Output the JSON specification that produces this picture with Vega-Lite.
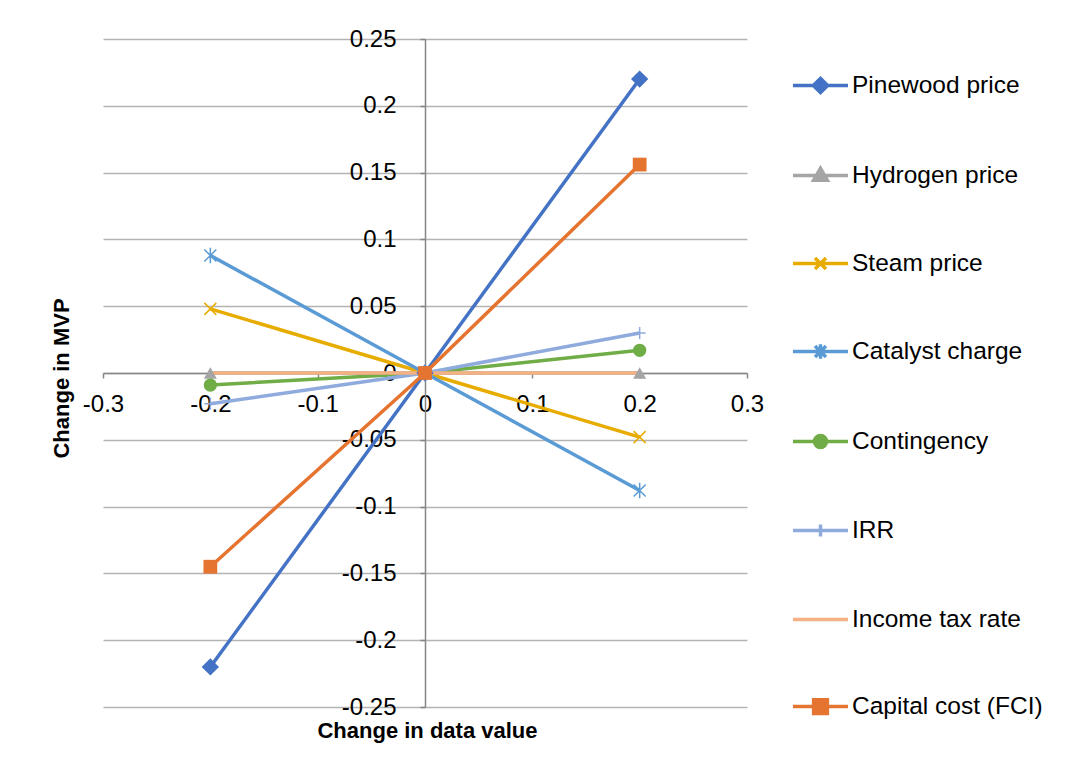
{
  "$schema": "https://vega.github.io/schema/vega-lite/v6.json",
  "autosize": {"type": "none"},
  "padding": {"left": 103, "top": 39, "right": 319, "bottom": 66},
  "width": 644,
  "height": 668,
  "background": "white",
  "config": {
    "view": {"stroke": null},
    "font": "Liberation Sans",
    "axis": {
      "labelFont": "Liberation Sans",
      "labelFontSize": 24,
      "labelColor": "#000000",
      "titleFont": "Liberation Sans",
      "titleFontSize": 22,
      "titleFontWeight": "bold",
      "titleColor": "#000000",
      "domainColor": "#868686",
      "domainWidth": 1.5,
      "tickColor": "#868686",
      "tickSize": 5,
      "tickWidth": 1.5,
      "gridColor": "#b3b3b3",
      "gridWidth": 1.3,
      "labelOverlap": false,
      "labelFlush": false,
      "labelBound": false
    }
  },
  "data": {
    "values": [
      {"series": "Pinewood price", "x": -0.2, "y": -0.22},
      {"series": "Pinewood price", "x": 0, "y": 0},
      {"series": "Pinewood price", "x": 0.2, "y": 0.22},
      {"series": "Hydrogen price", "x": -0.2, "y": 0},
      {"series": "Hydrogen price", "x": 0, "y": 0},
      {"series": "Hydrogen price", "x": 0.2, "y": 0},
      {"series": "Steam price", "x": -0.2, "y": 0.048},
      {"series": "Steam price", "x": 0, "y": 0},
      {"series": "Steam price", "x": 0.2, "y": -0.048},
      {"series": "Catalyst charge", "x": -0.2, "y": 0.088},
      {"series": "Catalyst charge", "x": 0, "y": 0},
      {"series": "Catalyst charge", "x": 0.2, "y": -0.088},
      {"series": "Contingency", "x": -0.2, "y": -0.009},
      {"series": "Contingency", "x": 0, "y": 0},
      {"series": "Contingency", "x": 0.2, "y": 0.017},
      {"series": "IRR", "x": -0.2, "y": -0.023},
      {"series": "IRR", "x": 0, "y": 0},
      {"series": "IRR", "x": 0.2, "y": 0.03},
      {"series": "Income tax rate", "x": -0.2, "y": 0},
      {"series": "Income tax rate", "x": 0, "y": 0},
      {"series": "Income tax rate", "x": 0.2, "y": 0},
      {"series": "Capital cost (FCI)", "x": -0.2, "y": -0.145},
      {"series": "Capital cost (FCI)", "x": 0, "y": 0},
      {"series": "Capital cost (FCI)", "x": 0.2, "y": 0.156}
    ]
  },
  "encoding": {
    "x": {
      "field": "x",
      "type": "quantitative",
      "scale": {"domain": [-0.3, 0.3], "nice": false, "zero": false},
      "axis": {
        "orient": "bottom",
        "offset": -334,
        "values": [-0.3, -0.2, -0.1, 0, 0.1, 0.2, 0.3],
        "labelExpr": "'' + datum.value",
        "grid": false,
        "labelPadding": 14,
        "title": "Change in data value",
        "titleX": 324,
        "titleY": 357,
        "titleAlign": "center",
        "titleBaseline": "middle",
        "titleAnchor": null
      }
    },
    "y": {
      "field": "y",
      "type": "quantitative",
      "scale": {"domain": [-0.25, 0.25], "nice": false, "zero": false},
      "axis": {
        "orient": "left",
        "offset": -322,
        "values": [-0.25, -0.2, -0.15, -0.1, -0.05, 0, 0.05, 0.1, 0.15, 0.2, 0.25],
        "labelExpr": "'' + datum.value",
        "grid": true,
        "labelPadding": 24,
        "labelBaseline": "middle",
        "title": "Change in MVP",
        "titleX": -364,
        "titleY": 339,
        "titleAngle": 270,
        "titleAlign": "center",
        "titleBaseline": "middle",
        "titleAnchor": null
      }
    }
  },
  "layer": [
    {
      "mark": {"type": "line", "strokeWidth": 3.5},
      "encoding": {
        "color": {
          "field": "series",
          "type": "nominal",
          "scale": {
            "domain": ["Pinewood price", "Hydrogen price", "Steam price", "Catalyst charge", "Contingency", "IRR", "Income tax rate", "Capital cost (FCI)"],
            "range": ["#4472C4", "#A5A5A5", "#E8AC00", "#5B9BD5", "#70AD47", "#8FAADC", "#F4B183", "#E57430"]
          },
          "legend": {
            "title": null,
            "orient": "none",
            "legendX": 688,
            "legendY": 17,
            "padding": 0,
            "offset": 0,
            "symbolSize": 3025,
            "symbolStrokeWidth": 3.5,
            "rowPadding": 46,
            "labelFont": "Liberation Sans",
            "labelFontSize": 24.5,
            "labelColor": "#000000",
            "labelOffset": 2,
            "labelLimit": 400,
            "encode": {
              "symbols": {
                "update": {
                  "shape": {"signal": "datum.value === 'Pinewood price' ? 'M-1,0H1M-0.26,0L0,-0.26L0.26,0L0,0.26Z' : datum.value === 'Hydrogen price' ? 'M-1,0H1M0,-0.26L0.25,0.17L-0.25,0.17Z' : datum.value === 'Steam price' ? 'M-1,0H1M-0.2,-0.2L0.2,0.2M-0.2,0.2L0.2,-0.2' : datum.value === 'Catalyst charge' ? 'M-1,0H1M-0.2,-0.2L0.2,0.2M-0.2,0.2L0.2,-0.2M0,-0.26V0.26' : datum.value === 'Contingency' ? 'M-1,0H1M-0.22,0A0.22,0.22,0,1,0,0.22,0A0.22,0.22,0,1,0,-0.22,0Z' : datum.value === 'IRR' ? 'M-1,0H1M0,-0.22V0.22' : datum.value === 'Capital cost (FCI)' ? 'M-1,0H1M-0.25,-0.25H0.25V0.25H-0.25Z' : 'M-1,0H1'"},
                  "fill": {"signal": "indexof(['Pinewood price','Hydrogen price','Contingency','Capital cost (FCI)'], datum.value) >= 0 ? scale('color', datum.value) : 'transparent'"},
                  "stroke": {"signal": "scale('color', datum.value)"},
                  "strokeWidth": {"value": 3.5},
                  "opacity": {"value": 1}
                }
              }
            }
          }
        }
      }
    },
    {
      "transform": [{"filter": {"field": "series", "equal": "Pinewood price"}}],
      "mark": {"type": "point", "shape": "diamond", "filled": true, "opacity": 1, "size": 300, "color": "#4472C4"}
    },
    {
      "transform": [{"filter": {"field": "series", "equal": "Hydrogen price"}}],
      "mark": {"type": "point", "shape": "triangle-up", "filled": true, "opacity": 1, "size": 170, "color": "#A5A5A5"}
    },
    {
      "transform": [{"filter": {"field": "series", "equal": "Steam price"}}],
      "mark": {"type": "point", "shape": "M-1,-1L1,1M-1,1L1,-1", "filled": false, "opacity": 1, "size": 144, "strokeWidth": 1.5, "color": "#E8AC00"}
    },
    {
      "transform": [{"filter": {"field": "series", "equal": "Catalyst charge"}}],
      "mark": {"type": "point", "shape": "M-1,-1L1,1M-1,1L1,-1M0,-1.3V1.3", "filled": false, "opacity": 1, "size": 144, "strokeWidth": 1.5, "color": "#5B9BD5"}
    },
    {
      "transform": [{"filter": {"field": "series", "equal": "Contingency"}}],
      "mark": {"type": "point", "shape": "circle", "filled": true, "opacity": 1, "size": 175, "color": "#70AD47"}
    },
    {
      "transform": [{"filter": {"field": "series", "equal": "IRR"}}],
      "mark": {"type": "point", "shape": "M-1,0H1M0,-1V1", "filled": false, "opacity": 1, "size": 144, "strokeWidth": 1.5, "color": "#8FAADC"}
    },
    {
      "transform": [{"filter": {"field": "series", "equal": "Capital cost (FCI)"}}],
      "mark": {"type": "point", "shape": "square", "filled": true, "opacity": 1, "size": 190, "color": "#E57430"}
    }
  ]
}
